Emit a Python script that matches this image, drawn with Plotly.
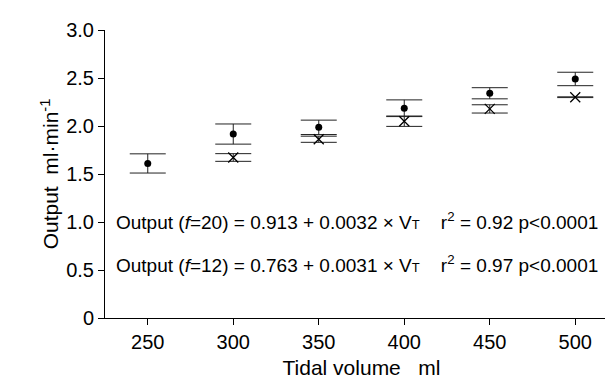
import plotly.graph_objects as go

tidal_volume = [250, 300, 350, 400, 450, 500]
f20_mean = [1.61, 1.916, 1.986, 2.185, 2.341, 2.49]
f20_err = [0.10, 0.105, 0.075, 0.087, 0.058, 0.07]
f12_mean = [None, 1.672, 1.862, 2.05, 2.178, 2.30]
f12_err = [None, 0.040, 0.032, 0.054, 0.043, 0.004]
y_tickvals = [0, 0.5, 1.0, 1.5, 2.0, 2.5, 3.0]
y_ticktext = ["0", "0.5", "1.0", "1.5", "2.0", "2.5", "3.0"]
x_tickvals = [250, 300, 350, 400, 450, 500]
eq_lines = [
    "Output (<i>f</i>=20) = 0.913 + 0.0032 × V<span style='font-size:13px'>T</span>    r<sup>2</sup> = 0.92 p&lt;0.0001",
    "Output (<i>f</i>=12) = 0.763 + 0.0031 × V<span style='font-size:13px'>T</span>    r<sup>2</sup> = 0.97 p&lt;0.0001",
]
eq_y = [1.01, 0.56]

FONT = "Liberation Sans, Arial, sans-serif"

fig = go.Figure()
fig.add_trace(go.Scatter(
    x=tidal_volume, y=f20_mean, mode="markers",
    marker=dict(symbol="circle", size=7, color="black"),
    error_y=dict(type="data", array=f20_err, visible=True, color="#222", thickness=1, width=18),
    showlegend=False,
))
fig.add_trace(go.Scatter(
    x=tidal_volume, y=f12_mean, mode="markers",
    marker=dict(symbol="x-thin", size=10, color="black", line=dict(width=1.3, color="black")),
    error_y=dict(type="data", array=f12_err, visible=True, color="#222", thickness=1, width=18),
    showlegend=False,
))

for txt, yy in zip(eq_lines, eq_y):
    fig.add_annotation(x=230, y=yy, xref="x", yref="y", text=txt, showarrow=False,
                       xanchor="left", yanchor="middle",
                       font=dict(family=FONT, size=19, color="black"))

fig.update_layout(
    width=613, height=378,
    margin=dict(l=97, r=3, t=22, b=68),
    paper_bgcolor="white", plot_bgcolor="white",
    font=dict(family=FONT, size=19, color="black"),
    xaxis=dict(range=[225, 525], tickvals=x_tickvals, ticks="outside", ticklen=6,
               tickcolor="black", showline=True, linecolor="black", linewidth=1,
               showgrid=False, zeroline=False, tickfont=dict(size=20),
               title=dict(text="Tidal volume   ml", font=dict(size=21), standoff=8)),
    yaxis=dict(range=[0, 3], tickvals=y_tickvals, ticktext=y_ticktext, ticks="outside",
               ticklen=6, tickcolor="black", showline=True, linecolor="black", linewidth=1,
               showgrid=False, zeroline=False, tickfont=dict(size=20),
               title=dict(text="Output  ml·min<sup>-1</sup>", font=dict(size=21), standoff=1)),
)

fig.write_html("out.html")
